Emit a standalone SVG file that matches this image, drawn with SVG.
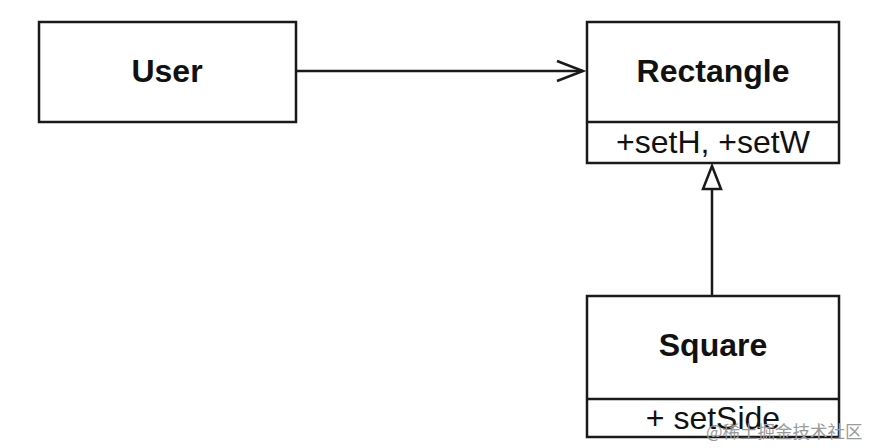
<svg xmlns="http://www.w3.org/2000/svg" width="874" height="448" viewBox="0 0 874 448">
<style>
.box{fill:#fff;stroke:#1a1a1a;stroke-width:2.5}
.div{stroke:#1a1a1a;stroke-width:2.5}
.title{font-family:"Liberation Sans",Arial,sans-serif;font-weight:bold;font-size:32px;fill:#111;text-anchor:middle}
.member{font-family:"Liberation Sans",Arial,sans-serif;font-size:32px;fill:#111;text-anchor:middle}
.edge{fill:none;stroke:#1a1a1a;stroke-width:2.5}
.wm{font-family:"Noto Sans CJK SC",sans-serif;font-size:17.5px;fill:#9a9a9a}
</style>
<rect width="874" height="448" fill="#fff"/>
<g id="connectors">
<line class="edge" x1="296" y1="71" x2="583" y2="71"/>
<polyline class="edge" points="557,61 583,71 557,81"/>
<line class="edge" x1="712" y1="189" x2="712" y2="296"/>
<polygon class="edge" points="712,166 703,189 721,189" fill="#fff"/>
</g>
<g id="user">
<rect class="box" x="39" y="22" width="257" height="100"/>
<text class="title" x="167" y="82">User</text>
</g>
<g id="rectangle">
<rect class="box" x="587" y="22" width="252" height="141"/>
<line class="div" x1="587" y1="122" x2="839" y2="122"/>
<text class="title" x="713" y="82">Rectangle</text>
<text class="member" x="713" y="153">+setH, +setW</text>
</g>
<g id="square">
<rect class="box" x="587" y="296" width="252" height="141"/>
<line class="div" x1="587" y1="399" x2="839" y2="399"/>
<text class="title" x="713" y="356">Square</text>
<text class="member" x="713" y="429">+ setSide</text>
</g>
<text class="wm" x="706" y="438">@稀土掘金技术社区</text>
</svg>
